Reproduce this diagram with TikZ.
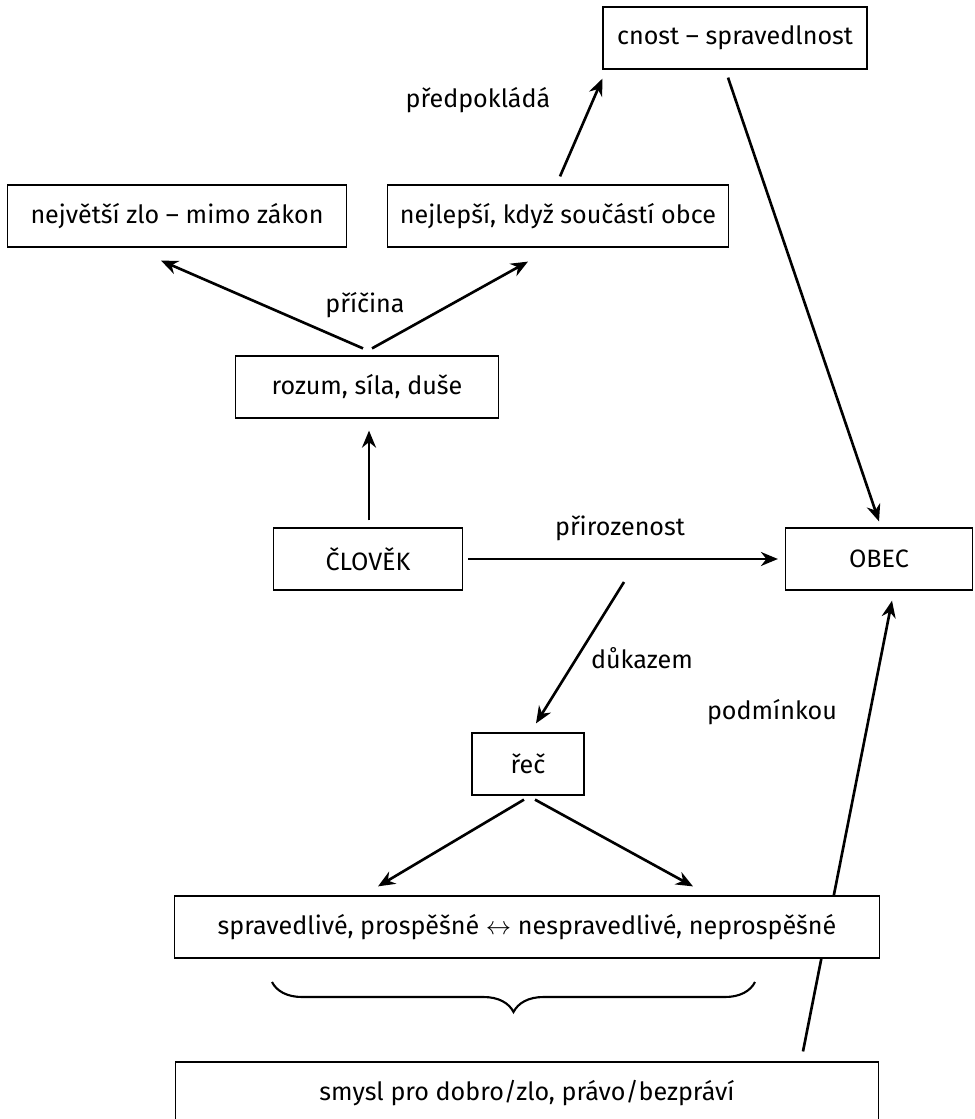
\documentclass[tikz,border=0pt]{standalone}
\usepackage{fontspec}
\setmainfont{Fira Sans}
\usetikzlibrary{arrows.meta,positioning,calc,decorations.pathreplacing,backgrounds}

\begin{document}
\begin{tikzpicture}[
  x=0.02cm, y=-0.02cm,
  font=\fontsize{14.3}{17}\selectfont,
  box/.style={rectangle, draw=black, fill=white, line width=0.7pt, minimum width=#1,
              minimum height=1.24cm, inner sep=0pt, align=center},
  arr/.style={-{Stealth[length=3.4mm, width=2.8mm, inset=1.1mm]}, line width=1.5pt},
  lbl/.style={inner sep=1pt},
  brc/.style={decorate, decoration={brace, mirror, amplitude=0.6cm},
              line width=1.2pt},
]
\useasboundingbox (0,0) rectangle (974,1119);

% ================= upper part: virtue and the two results of reason
\node[box=5.28cm] (cnost)  at (735,38)  {cnost -- spravedlnost};
\node[box=6.78cm] (zlo)    at (177,216) {největší zlo -- mimo zákon};
\node[box=6.82cm] (lepsi)  at (558,216) {nejlepší, když součástí obce};
\node[box=5.26cm] (rozum)  at (367,387) {rozum, síla, duše};

\draw[arr] ([shift={(2,-8)}]lepsi.north) -- ([shift={(0,9)}]cnost.south west);
\draw[arr] ([shift={(-4,-7)}]rozum.north) -- ([shift={(-16,13)}]zlo.south);
\draw[arr] ([shift={(5,-7)}]rozum.north) -- ([shift={(-30,14)}]lepsi.south);
\node[lbl] (pred)    at (478,100) {předpokládá};
\node[lbl] (pricina) at (365,305) {příčina};

% ================= man and the city
\node[box=3.78cm] (clovek) at (368,559) {ČLOVĚK};
\node[box=3.74cm] (obec)   at (879,559) {OBEC};

\draw[arr] ([shift={(1,-7)}]clovek.north) -- ([shift={(2,12)}]rozum.south);
\draw[arr] ([shift={(5,0)}]clovek.east) -- coordinate (mid) ([shift={(-7,0)}]obec.west);
\draw[arr] ([shift={(-7,8)}]cnost.south) -- ([shift={(0,-6)}]obec.north);
\node[lbl] (priroz) at (620,528) {přirozenost};

% ================= speech and what it tells apart
\node[box=2.24cm] (rec)   at (528,764)  {řeč};
\node[box=14.1cm] (sprav) at (527,927)  {spravedlivé, prospěšné $\leftrightarrow$ nespravedlivé, neprospěšné};
\node[box=14.06cm] (smysl) at (527,1093) {smysl pro dobro/zlo, právo/bezpráví};

\draw[arr] ([shift={(1,23)}]mid) -- ([shift={(8,-9)}]rec.north);
\draw[arr] ([shift={(-4,4)}]rec.south) -- ([shift={(-149,-9)}]sprav.north);
\draw[arr] ([shift={(7,4)}]rec.south) -- ([shift={(166,-9)}]sprav.north);
% the condition runs behind the box of the two pairs
\begin{scope}[on background layer]
\draw[arr] ([shift={(276,-10)}]smysl.north) -- ([shift={(13,10)}]obec.south);
\end{scope}
\node[lbl] (dukaz) at (642,658) {důkazem};
\node[lbl] (podm)  at (772,712) {podmínkou};

% ================= brace
\coordinate (bl) at (272,982);
\coordinate (br) at (755,982);
\draw[brc] (bl) -- (br);
\end{tikzpicture}
\end{document}
